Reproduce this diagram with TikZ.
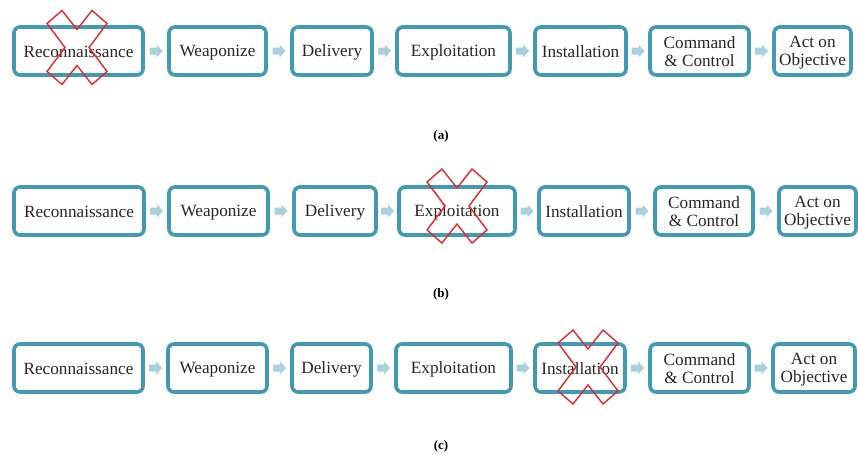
\documentclass[tikz,border=0pt]{standalone}
\usepackage{fontspec}
\setmainfont{Liberation Serif}
\usetikzlibrary{calc}
\definecolor{boxc}{RGB}{64,154,180}
\definecolor{arrc}{RGB}{168,208,222}
\definecolor{xred}{RGB}{232,38,43}
\definecolor{txt}{RGB}{38,38,38}
\newcommand{\kst}{\rule[-2pt]{0pt}{16pt}}
\tikzset{
  kbox/.style={draw=boxc, line width=3.6pt, rounded corners=6pt, fill=white,
    inner sep=0pt, minimum height=48pt, align=center,
    font=\fontsize{17.2}{18}\selectfont, text=txt},
  lbl/.style={font=\fontsize{13}{15}\selectfont\bfseries, text=black},
  karr/.pic={\fill[arrc] (-6.5,-3.5) -- (0.5,-3.5) -- (0.5,-6.5) -- (6.5,0) --
    (0.5,6.5) -- (0.5,3.5) -- (-6.5,3.5) -- cycle;},
  xmark/.pic={\draw[xred, line width=1.4pt, line join=miter]
    (-30,-24) -- (-15,-37) -- (0,-18) -- (15,-37) -- (30,-24) -- (12,0) --
    (30,24) -- (15,37) -- (0,18) -- (-15,37) -- (-30,24) -- (-12,0) -- cycle;}
}
\newcommand{\chainarrows}[1]{%
  \foreach \i [evaluate=\i as \j using int(\i+1)] in {1,...,6}{%
    \pic at ($(#1\i.east)!0.5!(#1\j.west)$) {karr};}}
\begin{document}
\begin{tikzpicture}[x=1pt,y=-1pt]
\useasboundingbox (0,0) rectangle (858,455);
% row (a)
\node[kbox, minimum width=129pt] (a1) at (78.5,51) {\kst Reconnaissance};
\node[kbox, minimum width=97pt]  (a2) at (217.5,51) {\kst Weaponize};
\node[kbox, minimum width=80pt]  (a3) at (332,51) {\kst Delivery};
\node[kbox, minimum width=113pt] (a4) at (453.5,51) {\kst Exploitation};
\node[kbox, minimum width=91pt]  (a5) at (580.5,51) {\kst Installation};
\node[kbox, minimum width=99pt]  (a6) at (699.5,51) {\kst Command\\\kst\& Control};
\node[kbox, minimum width=77pt]  (a7) at (812.5,51) {\kst Act on\\\kst Objective};
\chainarrows{a}
\pic at (77,47.5) {xmark};
\node[lbl] (la) at (441,136) {(a)};
% row (b)
\node[kbox, minimum width=130pt] (b1) at (79,211) {\kst Reconnaissance};
\node[kbox, minimum width=99pt]  (b2) at (218.5,211) {\kst Weaponize};
\node[kbox, minimum width=82pt]  (b3) at (335,211) {\kst Delivery};
\node[kbox, minimum width=116pt] (b4) at (457,211) {\kst Exploitation};
\node[kbox, minimum width=90pt]  (b5) at (584,211) {\kst Installation};
\node[kbox, minimum width=98pt]  (b6) at (704,211) {\kst Command\\\kst\& Control};
\node[kbox, minimum width=77pt]  (b7) at (817.5,211) {\kst Act on\\\kst Objective};
\chainarrows{b}
\pic at (457,206) {xmark};
\node[lbl] (lb) at (441,294) {(b)};
% row (c)
\node[kbox, minimum width=129pt] (c1) at (78.5,368) {\kst Reconnaissance};
\node[kbox, minimum width=99pt]  (c2) at (217.5,368) {\kst Weaponize};
\node[kbox, minimum width=79pt]  (c3) at (331.5,368) {\kst Delivery};
\node[kbox, minimum width=115pt] (c4) at (453.5,368) {\kst Exploitation};
\node[kbox, minimum width=90pt]  (c5) at (580,368) {\kst Installation};
\node[kbox, minimum width=99pt]  (c6) at (699.5,368) {\kst Command\\\kst\& Control};
\node[kbox, minimum width=82pt]  (c7) at (814,368) {\kst Act on\\\kst Objective};
\chainarrows{c}
\pic at (588,367) {xmark};
\node[lbl] (lc) at (441,446) {(c)};
\end{tikzpicture}
\end{document}
